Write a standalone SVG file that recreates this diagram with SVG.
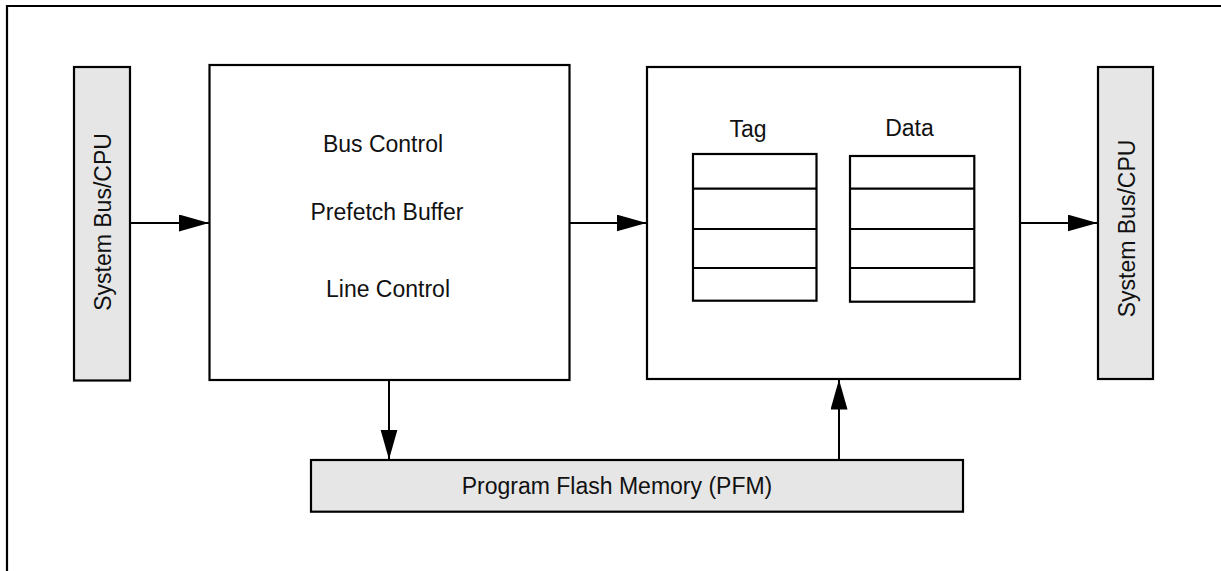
<svg xmlns="http://www.w3.org/2000/svg" width="1221" height="571" viewBox="0 0 1221 571">
<style>
.box{fill:#ffffff;stroke:#000;stroke-width:2.2}
.gray{fill:#e6e6e6;stroke:#000;stroke-width:2.2}
.ln{fill:none;stroke:#000;stroke-width:2.2}
.conn{fill:none;stroke:#000;stroke-width:2}
.t{font-family:"Liberation Sans",Arial,sans-serif;font-size:23px;fill:#111;text-anchor:middle}
</style>
<defs>
<marker id="ah" markerUnits="userSpaceOnUse" markerWidth="31" markerHeight="18" refX="30" refY="8.5" orient="auto">
<path d="M0,0 L30,8.5 L0,17 Z" fill="#000"/>
</marker>
</defs>
<rect width="1221" height="571" fill="#fff"/>
<g id="frame"><path class="ln" d="M7,580 L7,6 L1230,6"/></g>
<g id="sysbus-left">
<rect class="gray" x="74" y="67" width="56" height="313.5"/>
<text class="t" transform="translate(110.5,222) rotate(-90)">System Bus/CPU</text>
</g>
<g id="control">
<rect class="box" x="209.5" y="65" width="360" height="315"/>
<text class="t" x="383" y="152">Bus Control</text>
<text class="t" x="387" y="220">Prefetch Buffer</text>
<text class="t" x="388" y="297">Line Control</text>
</g>
<g id="cache">
<rect class="box" x="647" y="67" width="373" height="312"/>
<text class="t" x="748" y="137">Tag</text>
<text class="t" x="909.5" y="136">Data</text>
<g id="tag-table">
<rect class="box" x="693" y="154" width="123.5" height="146.7"/>
<path class="ln" d="M693,188.7 H816.5 M693,229 H816.5 M693,268 H816.5"/>
</g>
<g id="data-table">
<rect class="box" x="850" y="156" width="124.3" height="145.7"/>
<path class="ln" d="M850,188.7 H974.3 M850,229 H974.3 M850,268 H974.3"/>
</g>
</g>
<g id="sysbus-right">
<rect class="gray" x="1098" y="67" width="55" height="312"/>
<text class="t" transform="translate(1135,228.5) rotate(-90)">System Bus/CPU</text>
</g>
<g id="pfm">
<rect class="gray" x="311" y="460" width="652" height="51.7"/>
<text class="t" x="617" y="494">Program Flash Memory (PFM)</text>
</g>
<g id="connectors">
<line class="conn" x1="130" y1="223" x2="209" y2="223" marker-end="url(#ah)"/>
<line class="conn" x1="569.5" y1="223" x2="646.5" y2="223" marker-end="url(#ah)"/>
<line class="conn" x1="1020" y1="223" x2="1097.5" y2="223" marker-end="url(#ah)"/>
<line class="conn" x1="389" y1="380" x2="389" y2="459.5" marker-end="url(#ah)"/>
<line class="conn" x1="839" y1="460" x2="839" y2="379.5" marker-end="url(#ah)"/>
</g>
</svg>
